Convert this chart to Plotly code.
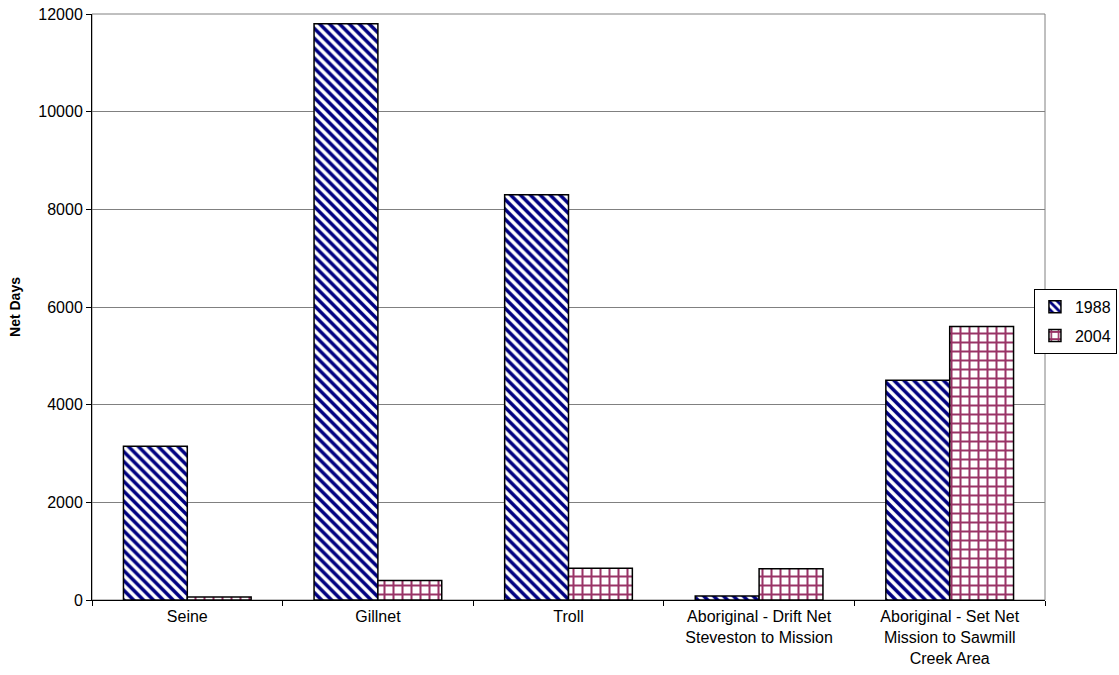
import plotly.graph_objects as go

categories = ["Seine", "Gillnet", "Troll",
              "Aboriginal - Drift Net<br>Steveston to Mission",
              "Aboriginal - Set Net<br>Mission to Sawmill<br>Creek Area"]
values_1988 = [3150, 11800, 8300, 80, 4500]
values_2004 = [60, 400, 650, 640, 5600]
y_ticks = [0, 2000, 4000, 6000, 8000, 10000, 12000]
y_tick_labels = [str(v) for v in y_ticks]

fig = go.Figure()
fig.add_trace(go.Bar(
    x=categories, y=values_1988, name="1988", legendgroup="a",
    marker=dict(color="white", line=dict(color="black", width=1.5),
                pattern=dict(shape="\\", fgcolor="#000080", bgcolor="white",
                             fgopacity=1, size=7, solidity=0.5)),
))
fig.add_trace(go.Bar(
    x=categories, y=values_2004, name="2004", legendgroup="b",
    marker=dict(color="white", line=dict(color="black", width=1.5),
                pattern=dict(shape="+", fgcolor="#993366", bgcolor="white",
                             fgopacity=1, size=9, solidity=0.4)),
))

fig.update_layout(
    width=1119, height=675,
    margin=dict(l=92, r=74, t=14, b=75, autoexpand=False),
    paper_bgcolor="white", plot_bgcolor="white",
    barmode="group", bargap=0.33, bargroupgap=0,
    font=dict(family="Liberation Sans, Arial, sans-serif", size=16, color="black"),
    showlegend=True,
    legend=dict(x=1.0755, y=0.531, xanchor="right", yanchor="top",
                bordercolor="black", borderwidth=1, bgcolor="white",
                font=dict(size=16), itemwidth=30, tracegroupgap=5),
    xaxis=dict(type="category", tickson="boundaries", ticks="outside", ticklen=5,
               tickcolor="black", showline=True, linecolor="black", linewidth=1,
               showgrid=False, tickfont=dict(size=16), ticklabelstandoff=2),
    yaxis=dict(range=[0, 12000], tickvals=y_ticks, ticktext=y_tick_labels,
               ticks="outside", ticklen=5,
               tickcolor="black", showline=True, linecolor="black", linewidth=1,
               showgrid=True, gridcolor="#808080", gridwidth=1, zeroline=False,
               tickfont=dict(size=16),
               title=dict(text="<b>Net Days</b>", font=dict(size=14), standoff=14)),
    shapes=[dict(type="rect", xref="paper", yref="paper", x0=0, x1=1, y0=0, y1=1,
                 line=dict(color="#808080", width=1), layer="below")],
)

fig.write_html("out.html")
